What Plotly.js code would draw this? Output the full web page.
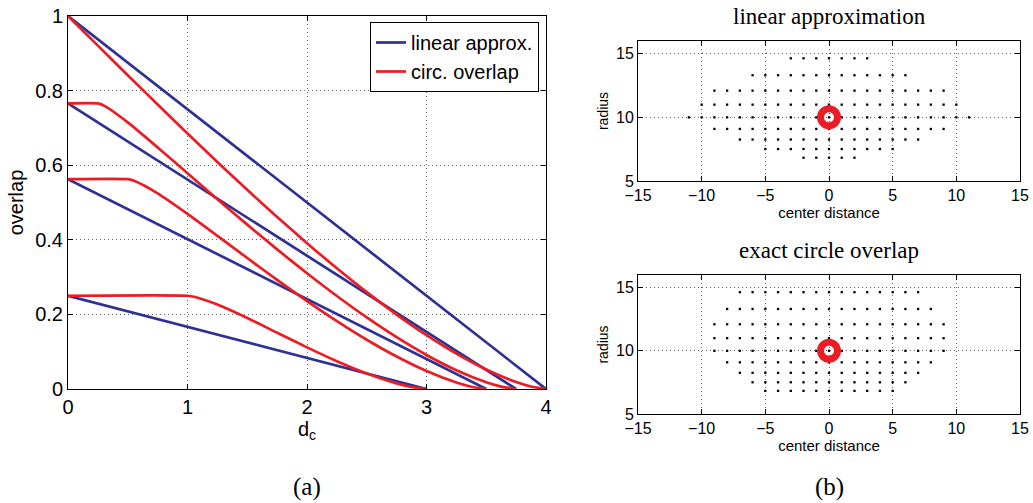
<!DOCTYPE html>
<html>
<head>
<meta charset="utf-8">
<script src="https://cdn.plot.ly/plotly-3.0.1.min.js"></script>
<style>
  html, body { margin: 0; padding: 0; background: #ffffff; }
  #chart { width: 1033px; height: 503px; }
</style>
</head>
<body>
<div id="chart"></div>
<script>
// ---------- Panel (a): overlap vs. center distance d_c ----------
// linear approximation (blue): value at d_c = 0 and the point where it hits zero
const linX_r200 = [0, 4];     const linY_r200 = [1.0, 0];
const linX_r175 = [0, 3.75];  const linY_r175 = [0.7656, 0];
const linX_r150 = [0, 3.5];   const linY_r150 = [0.5625, 0];
const linX_r100 = [0, 3];     const linY_r100 = [0.25, 0];

// exact circle overlap (red)
const circX_r200 = [0, 0.25, 0.5, 0.75, 1, 1.25, 1.5, 1.75, 2, 2.25, 2.5, 2.75, 3, 3.25, 3.5, 3.75, 3.875, 4];
const circY_r200 = [1, 0.9205, 0.8413, 0.7627, 0.6850, 0.6087, 0.5340, 0.4613, 0.3910, 0.3236, 0.2596, 0.1996, 0.1443, 0.0947, 0.0521, 0.0186, 0.0066, 0];
const circX_r175 = [0, 0.25, 0.3125, 0.5, 0.75, 1, 1.25, 1.5, 1.75, 2, 2.25, 2.5, 2.75, 3, 3.25, 3.5, 3.625, 3.75];
const circY_r175 = [0.7656, 0.7656, 0.7577, 0.7148, 0.6477, 0.5783, 0.5089, 0.4407, 0.3743, 0.3103, 0.2493, 0.1919, 0.1389, 0.0912, 0.0502, 0.0179, 0.0064, 0];
const circX_r150 = [0, 0.5, 0.5625, 0.75, 1, 1.25, 1.5, 1.75, 2, 2.25, 2.5, 2.75, 3, 3.25, 3.375, 3.5];
const circY_r150 = [0.5625, 0.5625, 0.5571, 0.5246, 0.4696, 0.4107, 0.3511, 0.2925, 0.2358, 0.1821, 0.1321, 0.0870, 0.0480, 0.0172, 0.0061, 0];
const circX_r100 = [0, 1, 1.0625, 1.25, 1.5, 1.75, 2, 2.25, 2.5, 2.75, 2.875, 3];
const circY_r100 = [0.25, 0.25, 0.2468, 0.2265, 0.1904, 0.1509, 0.1117, 0.0746, 0.0416, 0.0150, 0.0054, 0];

const seriesNames = ['linear approx.', 'circ. overlap'];
const ticksA_x = [0, 1, 2, 3, 4];
const ticksA_y = [0, 0.2, 0.4, 0.6, 0.8, 1];
const tickTextA_y = ['0', '0.2', '0.4', '0.6', '0.8', '1'];

// ---------- Panel (b): sampled (center distance, radius) grid ----------
// each row: radius value and the leftmost / rightmost center distance that carries a dot
const rowRadius     = [14.64, 13.31, 12.10, 11.00, 10.00, 9.09, 8.26, 7.51, 6.83];
const linRowFrom    = [-3, -6, -9, -10, -11, -9, -7, -5, -2];
const linRowTo      = [ 3,  6,  9,  10,  11,  9,  7,  5,  2];
const exactRowFrom  = [-7, -8, -9, -9, -9, -8, -7, -6, -5];
const exactRowTo    = [ 7,  8,  9,  9,  9,  8,  7,  6,  5];
const refPointX = [0];
const refPointY = [10];
const ticksB_x = [-15, -10, -5, 0, 5, 10, 15];
const ticksB_y = [5, 10, 15];

function expandRows(from, to, radius) {
  const xs = [], ys = [];
  for (let r = 0; r < radius.length; r++) {
    for (let x = from[r]; x <= to[r]; x++) { xs.push(x); ys.push(radius[r]); }
  }
  return {x: xs, y: ys};
}
const linDots = expandRows(linRowFrom, linRowTo, rowRadius);
const exactDots = expandRows(exactRowFrom, exactRowTo, rowRadius);

const BLUE = '#2e3192';
const RED = '#ec1c24';
const LW = 2.7;

const traces = [];
const linSets = [[linX_r200, linY_r200], [linX_r175, linY_r175], [linX_r150, linY_r150], [linX_r100, linY_r100]];
const circSets = [[circX_r200, circY_r200], [circX_r175, circY_r175], [circX_r150, circY_r150], [circX_r100, circY_r100]];

linSets.forEach((s, i) => {
  traces.push({
    x: s[0], y: s[1], type: 'scatter', mode: 'lines', xaxis: 'x', yaxis: 'y',
    line: {color: BLUE, width: LW},
    name: seriesNames[0], legendgroup: 'lin', showlegend: i === 0, hoverinfo: 'skip'
  });
});
circSets.forEach((s, i) => {
  traces.push({
    x: s[0], y: s[1], type: 'scatter', mode: 'lines', xaxis: 'x', yaxis: 'y',
    line: {color: RED, width: LW, shape: 'spline', smoothing: 0.6},
    name: seriesNames[1], legendgroup: 'circ', showlegend: i === 0, hoverinfo: 'skip'
  });
});

[[linDots, 'x2', 'y2'], [exactDots, 'x3', 'y3']].forEach(p => {
  traces.push({
    x: p[0].x, y: p[0].y, type: 'scatter', mode: 'markers', xaxis: p[1], yaxis: p[2],
    marker: {symbol: 'square', size: 2.3, color: '#000000', line: {width: 0}},
    showlegend: false, hoverinfo: 'skip'
  });
  traces.push({
    x: refPointX, y: refPointY, type: 'scatter', mode: 'markers', xaxis: p[1], yaxis: p[2],
    marker: {symbol: 'circle-open', size: 17, color: RED, line: {width: 7, color: RED}},
    showlegend: false, hoverinfo: 'skip'
  });
});

const SANS = 'Liberation Sans, Arial, sans-serif';
const sansA = {family: SANS, size: 20, color: '#000'};
const sansB = {family: SANS, size: 16, color: '#000'};
const serif = {family: 'Liberation Serif, Times New Roman, serif', size: 23, color: '#000'};
const serifLab = {family: 'Liberation Serif, Times New Roman, serif', size: 25, color: '#000'};

function axisCommon(extra) {
  return Object.assign({
    showline: true, linecolor: '#000', linewidth: 1, mirror: 'ticks',
    ticks: 'inside', ticklen: 5, tickcolor: '#000', tickwidth: 1,
    showgrid: true, gridcolor: '#666666', griddash: '1px,3px', gridwidth: 1,
    zeroline: false, automargin: false, fixedrange: true
  }, extra);
}

const W = 1033, H = 503;
const layout = {
  width: W, height: H,
  margin: {l: 0, r: 0, t: 0, b: 0},
  paper_bgcolor: '#ffffff', plot_bgcolor: '#ffffff',
  showlegend: true,
  legend: {
    x: 539 / W, y: 1 - 22 / H, xanchor: 'right', yanchor: 'top',
    bordercolor: '#000', borderwidth: 1, bgcolor: '#ffffff',
    font: {family: SANS, size: 20, color: '#000'},
    tracegroupgap: 0, itemwidth: 30
  },
  xaxis: axisCommon({
    domain: [68 / W, 546 / W], range: [0, 4], anchor: 'y',
    tickmode: 'array', tickvals: ticksA_x, tickfont: sansA,
    title: {text: 'd<sub>c</sub>', font: sansA, standoff: 0}
  }),
  yaxis: axisCommon({
    domain: [1 - 389 / H, 1 - 16 / H], range: [0, 1], anchor: 'x',
    tickmode: 'array', tickvals: ticksA_y, ticktext: tickTextA_y, tickfont: sansA,
    title: {text: 'overlap', font: sansA, standoff: 6}
  }),
  xaxis2: axisCommon({
    domain: [638 / W, 1020 / W], range: [-15, 15], anchor: 'y2',
    tickmode: 'array', tickvals: ticksB_x, tickfont: sansB,
    title: {text: 'center distance', font: {family: SANS, size: 15, color: '#000'}, standoff: 2}
  }),
  yaxis2: axisCommon({
    domain: [1 - 181 / H, 1 - 41 / H], range: [5, 16], anchor: 'x2',
    tickmode: 'array', tickvals: ticksB_y, tickfont: sansB,
    title: {text: 'radius', font: {family: SANS, size: 14, color: '#000'}, standoff: 4}
  }),
  xaxis3: axisCommon({
    domain: [638 / W, 1020 / W], range: [-15, 15], anchor: 'y3',
    tickmode: 'array', tickvals: ticksB_x, tickfont: sansB,
    title: {text: 'center distance', font: {family: SANS, size: 15, color: '#000'}, standoff: 2}
  }),
  yaxis3: axisCommon({
    domain: [1 - 414 / H, 1 - 275 / H], range: [5, 16], anchor: 'x3',
    tickmode: 'array', tickvals: ticksB_y, tickfont: sansB,
    title: {text: 'radius', font: {family: SANS, size: 14, color: '#000'}, standoff: 4}
  }),
  annotations: [
    {text: 'linear approximation', xref: 'paper', yref: 'paper', x: 829 / W, y: 1 - 17 / H,
     xanchor: 'center', yanchor: 'middle', showarrow: false, font: serif},
    {text: 'exact circle overlap', xref: 'paper', yref: 'paper', x: 829 / W, y: 1 - 250 / H,
     xanchor: 'center', yanchor: 'middle', showarrow: false, font: serif},
    {text: '(a)', xref: 'paper', yref: 'paper', x: 307 / W, y: 1 - 487 / H,
     xanchor: 'center', yanchor: 'middle', showarrow: false, font: serifLab},
    {text: '(b)', xref: 'paper', yref: 'paper', x: 829 / W, y: 1 - 487 / H,
     xanchor: 'center', yanchor: 'middle', showarrow: false, font: serifLab}
  ]
};

Plotly.newPlot('chart', traces, layout, {displayModeBar: false, staticPlot: true});
</script>
</body>
</html>
